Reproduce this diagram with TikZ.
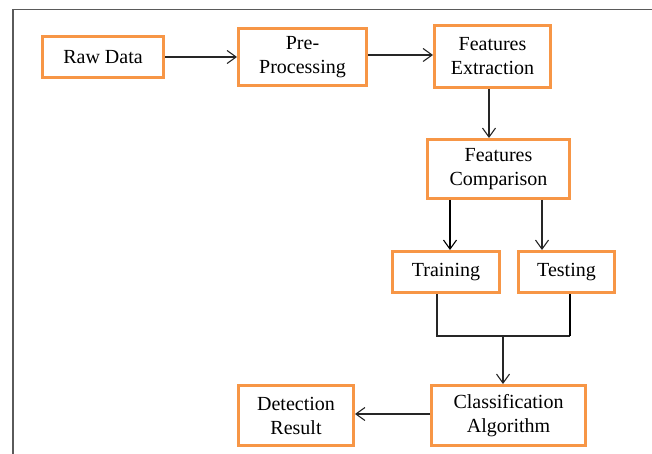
\documentclass[tikz,border=0pt]{standalone}
\usepackage{fontspec}
\setmainfont{Liberation Serif}
\usetikzlibrary{arrows.meta}
\definecolor{boxorange}{HTML}{F79646}
\definecolor{framegray}{HTML}{5A5A5A}
\tikzset{
  box/.style={draw=boxorange, line width=3pt, fill=white, align=center,
    inner sep=0pt, font=\fontsize{20}{24}\selectfont},
  conn/.style={line width=1.1pt, draw=black!85},
  thickconn/.style={line width=2pt, draw=black},
  arr/.style={-{Straight Barb[length=9pt,width=13pt,line width=1.1pt]}},
}
\begin{document}
\begin{tikzpicture}[x=1pt,y=-1pt]
\useasboundingbox (0,0) rectangle (652,454);
\draw[framegray, line width=1.5pt] (13,454) -- (13,9.5) -- (652,9.5);

\node[box, minimum width=121pt, minimum height=41pt] (raw) at (103,57) {Raw Data};
\node[box, minimum width=128pt, minimum height=57pt] (pre) at (302.5,57) {Pre-\\Processing};
\node[box, minimum width=116pt, minimum height=62pt] (fe) at (492.5,56.5) {Features\\Extraction};
\node[box, minimum width=142pt, minimum height=59pt] (fc) at (498.5,169) {Features\\Comparison};
\node[box, minimum width=107pt, minimum height=41pt] (train) at (446,272) {Training};
\node[box, minimum width=96pt, minimum height=41pt] (test) at (566.5,272) {Testing};
\node[box, minimum width=154pt, minimum height=60pt] (cls) at (508.5,415.5) {Classification\\Algorithm};
\node[box, minimum width=115pt, minimum height=60pt] (det) at (296,415.5) {Detection\\Result};

\draw[conn, arr] (raw.east) -- (pre.west);
\draw[conn, arr] (pre.east |- 0,55) -- (fe.west |- 0,55);
\draw[conn, arr] ([xshift=-3.5pt]fe.south) -- ([xshift=-3.5pt]fe.south |- fc.north);
\draw[thickconn, arr] ([xshift=-48.5pt]fc.south) -- ([xshift=-48.5pt]fc.south |- train.north);
\draw[conn, arr] ([xshift=43.5pt]fc.south) -- ([xshift=43.5pt]fc.south |- test.north);

\coordinate (bl) at (437,336);
\coordinate (br) at (570,336);
\coordinate (j) at (503,336);
\draw[conn] (train.south -| bl) -- (bl) -- (br);
\draw[thickconn] (test.south -| br) -- (br);
\draw[conn, arr] (j) -- (j |- cls.north);
\draw[conn, arr] (cls.west |- 0,414) -- (det.east |- 0,414);
\end{tikzpicture}
\end{document}
